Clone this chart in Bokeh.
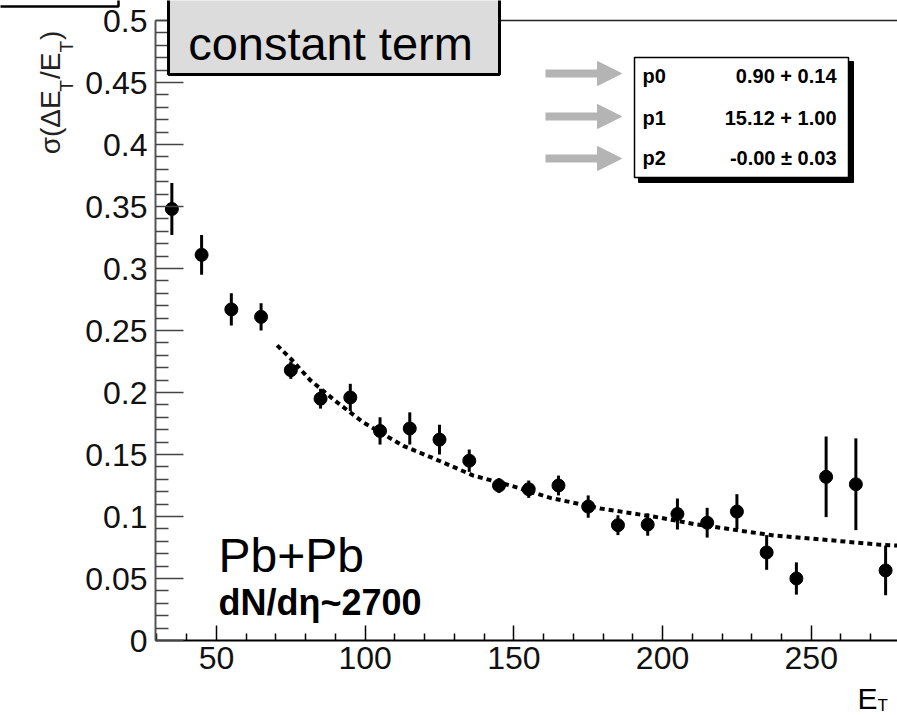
import numpy as np
from bokeh.plotting import figure
from bokeh.models import (Range1d, FixedTicker, NumeralTickFormatter, Label,
                          BoxAnnotation, Arrow, NormalHead, LinearAxis)
from bokeh.embed import file_html
from bokeh.resources import INLINE

# ---------------- data ----------------
et = [35, 45, 55, 65, 75, 85, 95, 105, 115, 125, 135, 145, 155, 165, 175,
      185, 195, 205, 215, 225, 235, 245, 255, 265, 275]
sigma = [0.348, 0.311, 0.267, 0.261, 0.218, 0.195, 0.196, 0.169, 0.171, 0.162,
         0.145, 0.125, 0.122, 0.125, 0.108, 0.093, 0.0935, 0.102, 0.095, 0.104,
         0.071, 0.050, 0.132, 0.126, 0.0565]
sigma_err = [0.021, 0.016, 0.013, 0.011, 0.007, 0.008, 0.011, 0.011, 0.013, 0.012,
             0.009, 0.006, 0.007, 0.008, 0.009, 0.008, 0.009, 0.0125, 0.012, 0.014,
             0.014, 0.013, 0.0325, 0.037, 0.020]

fit_et = [70.4, 75.5, 81.5, 90.6, 99.3, 112.8, 122.9, 136.4, 148.8, 162.3,
          179.1, 199.3, 210.4, 237.4, 257.6, 272.4, 279.0]
fit_sigma = [0.238, 0.226, 0.210, 0.192, 0.176, 0.157, 0.147, 0.133, 0.125, 0.115,
             0.1065, 0.099, 0.094, 0.0847, 0.0806, 0.0774, 0.0765]

par_names = ["p0", "p1", "p2"]
par_values = ["0.90 + 0.14", "15.12 + 1.00", "-0.00 \u00b1 0.03"]

x_ticks = [50, 100, 150, 200, 250]
y_ticks = [0, 0.05, 0.1, 0.15, 0.2, 0.25, 0.3, 0.35, 0.4, 0.45, 0.5]

title_text = "constant term"
system_text = "Pb+Pb"
mult_text = "dN/d\u03b7~2700"

# ---------------- geometry ----------------
W, H = 897, 715
FL, FR, FT, FB = 155, 897, 20, 640          # pixel box of the axes
X0, X1 = 29.5, 279.0                         # data limits of the axes box
Y0, Y1 = 0.0, 0.5


def px(xp):
    return X0 + (xp - FL) / (FR - FL) * (X1 - X0)


def py(yp):
    return Y0 + (FB - yp) / (FB - FT) * (Y1 - Y0)


FONT = "Liberation Sans"

# frame covers the whole canvas; axes are pinned with fixed_location
p = figure(width=W, height=H, x_range=Range1d(px(0), px(W)), y_range=Range1d(py(H), py(0)),
           output_backend="svg", toolbar_location=None, x_axis_location=None,
           y_axis_location=None,
           min_border_left=0, min_border_right=0, min_border_top=0, min_border_bottom=0)
p.outline_line_color = None
p.xgrid.visible = False
p.ygrid.visible = False
p.background_fill_color = "white"
p.border_fill_color = "white"

x_minor = [float(v) for v in np.arange(30, 281, 10) if v % 50 != 0]
y_minor = [round(float(v), 3) for v in np.arange(0, 0.501, 0.01) if round(v * 100) % 5 != 0]

xaxis = LinearAxis(fixed_location=Y0, bounds=(X0, X1),
                   ticker=FixedTicker(ticks=x_ticks, minor_ticks=x_minor),
                   formatter=NumeralTickFormatter(format="0"))
yaxis = LinearAxis(fixed_location=X0, bounds=(Y0, Y1),
                   ticker=FixedTicker(ticks=y_ticks, minor_ticks=y_minor),
                   formatter=NumeralTickFormatter(format="0.[00]"))
topaxis = LinearAxis(fixed_location=Y1, bounds=(X0, X1),
                     ticker=FixedTicker(ticks=[], minor_ticks=[]),
                     major_label_text_color=None, major_tick_line_color=None,
                     minor_tick_line_color=None, axis_line_color="#222222",
                     axis_line_width=1.5)

for ax in (xaxis, yaxis):
    ax.major_label_text_font = FONT
    ax.major_label_text_font_size = "32px"
    ax.major_label_text_color = "#111111"
    ax.major_tick_out = 0
    ax.minor_tick_out = 0

xaxis.axis_line_color = "black"
xaxis.axis_line_width = 2
xaxis.major_tick_line_color = "black"
xaxis.minor_tick_line_color = "black"
xaxis.major_tick_line_width = 1.5
xaxis.minor_tick_line_width = 1.5
xaxis.major_tick_in = 15
xaxis.minor_tick_in = 7
xaxis.major_label_standoff = 6

yaxis.axis_line_color = "#555555"
yaxis.axis_line_width = 2
yaxis.major_tick_line_color = "#444444"
yaxis.minor_tick_line_color = "#444444"
yaxis.major_tick_line_width = 1.5
yaxis.minor_tick_line_width = 1.5
yaxis.major_tick_in = 28
yaxis.minor_tick_in = 13
yaxis.major_label_standoff = 8

p.add_layout(xaxis, "below")
p.add_layout(yaxis, "left")
p.add_layout(topaxis, "above")

# ---------------- data marks ----------------
et_a = np.array(et, dtype=float)
s_a = np.array(sigma)
e_a = np.array(sigma_err)
p.segment(x0=et_a, y0=s_a - e_a, x1=et_a, y1=s_a + e_a, line_color="black", line_width=3)
p.line(fit_et, fit_sigma, line_color="black", line_width=4, line_dash="5 4")
p.scatter(et_a, s_a, size=13, fill_color="black", line_color="black", marker="circle")

# ---------------- decorations ----------------
# stray box at top-left corner
p.add_layout(BoxAnnotation(left=px(-6), right=px(118), top=py(-6), bottom=py(6),
                           fill_color="white", fill_alpha=1, line_color="black",
                           line_alpha=1, line_width=2.5))

# "constant term" box
p.add_layout(BoxAnnotation(left=px(168), right=px(499), top=py(-6), bottom=py(74),
                           fill_color="#dcdcdc", fill_alpha=1, line_color="black",
                           line_alpha=1, line_width=3))
p.add_layout(Label(x=px(330), y=py(43), text=title_text, text_font=FONT,
                   text_font_size="47px", text_align="center", text_baseline="alphabetic",
                   text_color="black"))

# stats box with shadow
p.add_layout(BoxAnnotation(left=px(638), right=px(853), top=py(61), bottom=py(182),
                           fill_color="black", fill_alpha=1, line_color="black",
                           line_alpha=1, line_width=1))
p.add_layout(BoxAnnotation(left=px(634), right=px(848), top=py(57), bottom=py(177),
                           fill_color="white", fill_alpha=1, line_color="black",
                           line_alpha=1, line_width=1.5))
row_y = [75, 117, 157]
arrow_y = [73, 116, 158]
for name, val, ry, ay in zip(par_names, par_values, row_y, arrow_y):
    p.add_layout(Label(x=px(642), y=py(ry), text=name, text_font=FONT,
                       text_font_size="20px", text_font_style="bold",
                       text_align="left", text_baseline="middle", text_color="black"))
    p.add_layout(Label(x=px(836), y=py(ry), text=val, text_font=FONT,
                       text_font_size="20px", text_font_style="bold",
                       text_align="right", text_baseline="middle", text_color="black"))
    p.add_layout(Arrow(x_start=px(545), y_start=py(ay), x_end=px(621), y_end=py(ay),
                       line_color="#b4b4b4", line_width=8,
                       end=NormalHead(size=24, fill_color="#b4b4b4", line_color="#b4b4b4",
                                      line_width=1)))

# Pb+Pb text
p.add_layout(Label(x=px(218), y=py(555), text=system_text, text_font=FONT,
                   text_font_size="48px", text_align="left", text_baseline="alphabetic",
                   text_color="black"))
p.add_layout(Label(x=px(218), y=py(602), text=mult_text, text_font=FONT,
                   text_font_size="36px", text_font_style="bold", text_align="left",
                   text_baseline="alphabetic", text_color="black"))

# x-axis title E_T
p.add_layout(Label(x=px(857), y=py(698), text="E", text_font=FONT, text_font_size="30px",
                   text_align="left", text_baseline="alphabetic", text_color="black"))
p.add_layout(Label(x=px(877), y=py(705), text="T", text_font=FONT, text_font_size="17px",
                   text_align="left", text_baseline="alphabetic", text_color="black"))

# y-axis title sigma(dE_T/E_T), rotated, built from pieces
MAIN, SUB = 28, 19
pieces = [("\u03c3(\u0394E", MAIN, 50, 2.24 * MAIN),
          ("T", SUB, 66, 0.611 * SUB + 1),
          ("/E", MAIN, 50, 0.945 * MAIN),
          ("T", SUB, 66, 0.611 * SUB + 1),
          (")", MAIN, 50, 0.333 * MAIN)]
total = sum(pc[3] for pc in pieces)
ycur = 92 + total / 2.0
for txt, fs, bx, wd in pieces:
    p.add_layout(Label(x=px(bx), y=py(ycur), text=txt, text_font=FONT,
                       text_font_size=f"{fs}px", angle=np.pi / 2, text_align="left",
                       text_baseline="alphabetic", text_color="#222222"))
    ycur -= wd

open("out.html", "w").write(file_html(p, INLINE))
